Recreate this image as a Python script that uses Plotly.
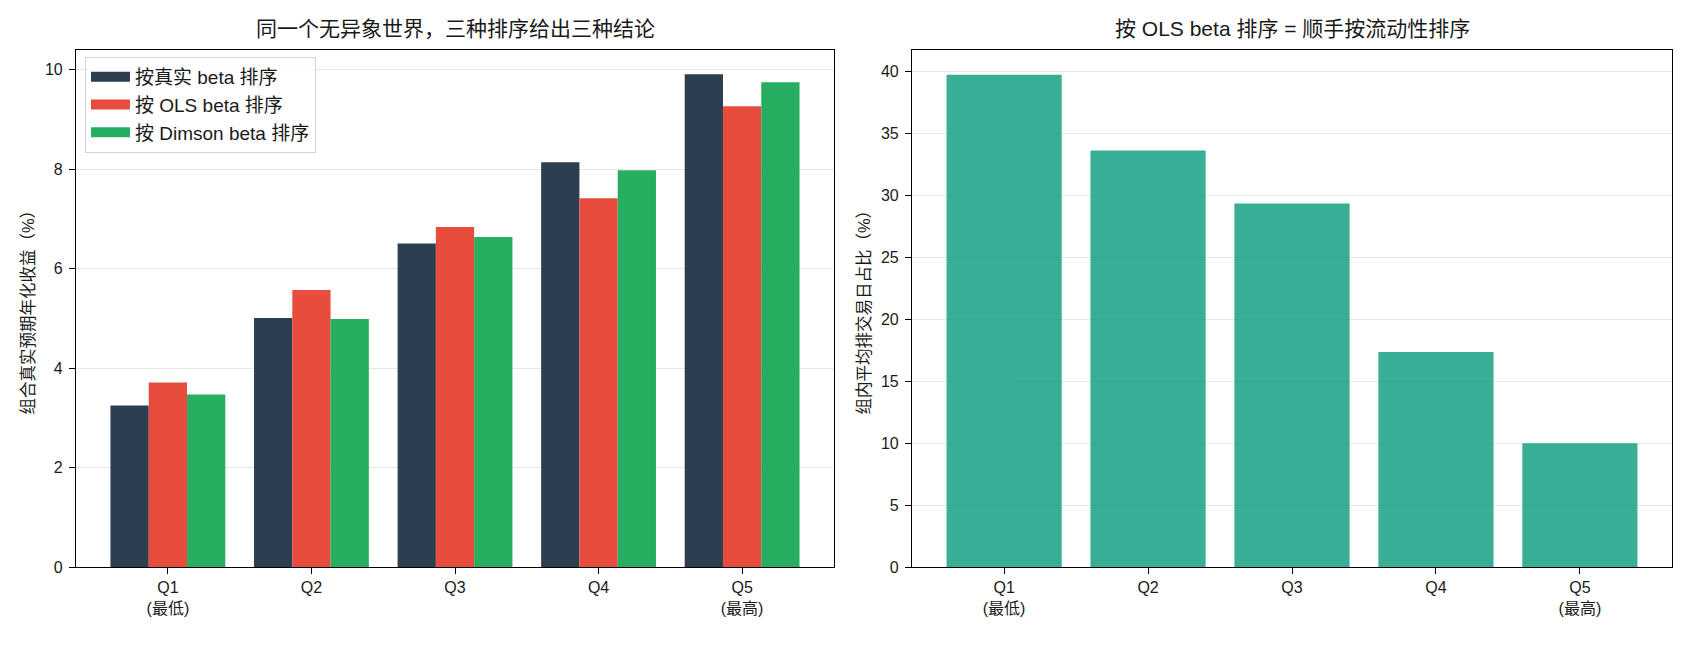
import plotly.graph_objects as go

# quintile labels and values
quintiles = ["Q1<br>(最低)", "Q2", "Q3", "Q4", "Q5<br>(最高)"]
true_beta_sort = [3.25, 5.01, 6.51, 8.14, 9.91]
ols_beta_sort = [3.71, 5.57, 6.84, 7.42, 9.27]
dimson_beta_sort = [3.47, 4.99, 6.64, 7.98, 9.75]
nontrade_share = [39.77, 33.65, 29.37, 17.36, 10.0]

left_ticks = [0, 2, 4, 6, 8, 10]
right_ticks = [0, 5, 10, 15, 20, 25, 30, 35, 40]

FONT = "Liberation Sans, Noto Sans CJK SC, sans-serif"
W, H = 1690, 650

fig = go.Figure()

series = [
    ("按真实 beta 排序", true_beta_sort, "#2c3e50"),
    ("按 OLS beta 排序", ols_beta_sort, "#e74c3c"),
    ("按 Dimson beta 排序", dimson_beta_sort, "#27ae60"),
]
for name, vals, color in series:
    fig.add_trace(go.Bar(x=quintiles, y=vals, name=name, marker_color=color,
                         marker_line_width=0, legendgroup=name, showlegend=False,
                         xaxis="x", yaxis="y"))
# legend entries drawn as wide swatches like matplotlib's patches
for name, vals, color in series:
    fig.add_trace(go.Scatter(x=[None], y=[None], mode="lines", name=name,
                             line=dict(color=color, width=12), legendgroup=name,
                             xaxis="x", yaxis="y"))

fig.add_trace(go.Bar(x=quintiles, y=nontrade_share, name="非交易日占比",
                     marker_color="#16a085", opacity=0.85, marker_line_width=0,
                     showlegend=False, xaxis="x2", yaxis="y2"))

x1 = [76 / W, 834 / W]
x2 = [912 / W, 1672 / W]
ydom = [83 / H, 600.5 / H]

axis_common = dict(showline=True, mirror=True, linecolor="black", linewidth=1.2,
                   ticks="outside", ticklen=6, tickcolor="black",
                   tickfont=dict(size=16, color="#1a1a1a"), zeroline=False,
                   automargin=False)
xcommon = dict(axis_common, showgrid=False, range=[-0.64, 4.64])
ycommon = dict(axis_common, showgrid=True, gridcolor="rgba(176,176,176,0.3)",
               gridwidth=1, layer="above traces", ticklabelstandoff=3)

fig.update_layout(
    width=W, height=H,
    margin=dict(l=0, r=0, t=0, b=0),
    paper_bgcolor="white", plot_bgcolor="white",
    font=dict(family=FONT, color="#1a1a1a"),
    barmode="group", bargap=0.2, bargroupgap=0,
    xaxis=dict(xcommon, domain=x1, anchor="y"),
    yaxis=dict(ycommon, domain=ydom, anchor="x", range=[0, 10.41],
               tickvals=left_ticks,
               title=dict(text="组合真实预期年化收益（%）", font=dict(size=16.5), standoff=6)),
    xaxis2=dict(xcommon, domain=x2, anchor="y2"),
    yaxis2=dict(ycommon, domain=ydom, anchor="x2", range=[0, 41.8],
                tickvals=right_ticks,
                title=dict(text="组内平均排交易日占比（%）", font=dict(size=16.5), standoff=6)),
    legend=dict(x=85 / W, y=1 - 57 / H, xanchor="left", yanchor="top",
                bgcolor="rgba(255,255,255,0.85)", bordercolor="#d4d4d4",
                borderwidth=1, font=dict(size=19), tracegroupgap=0,
                itemwidth=39),
    annotations=[
        dict(text="同一个无异象世界，三种排序给出三种结论", x=(x1[0] + x1[1]) / 2,
             y=1 - 29 / H, xref="paper", yref="paper", showarrow=False,
             xanchor="center", yanchor="middle", font=dict(size=21)),
        dict(text="按 OLS beta 排序 = 顺手按流动性排序", x=(x2[0] + x2[1]) / 2,
             y=1 - 29 / H, xref="paper", yref="paper", showarrow=False,
             xanchor="center", yanchor="middle", font=dict(size=21)),
    ],
)

# page body margin would shift the figure by 8px, drop it
fig.write_html("out.html", config={"displayModeBar": False},
               post_script="document.body.style.margin='0';")
